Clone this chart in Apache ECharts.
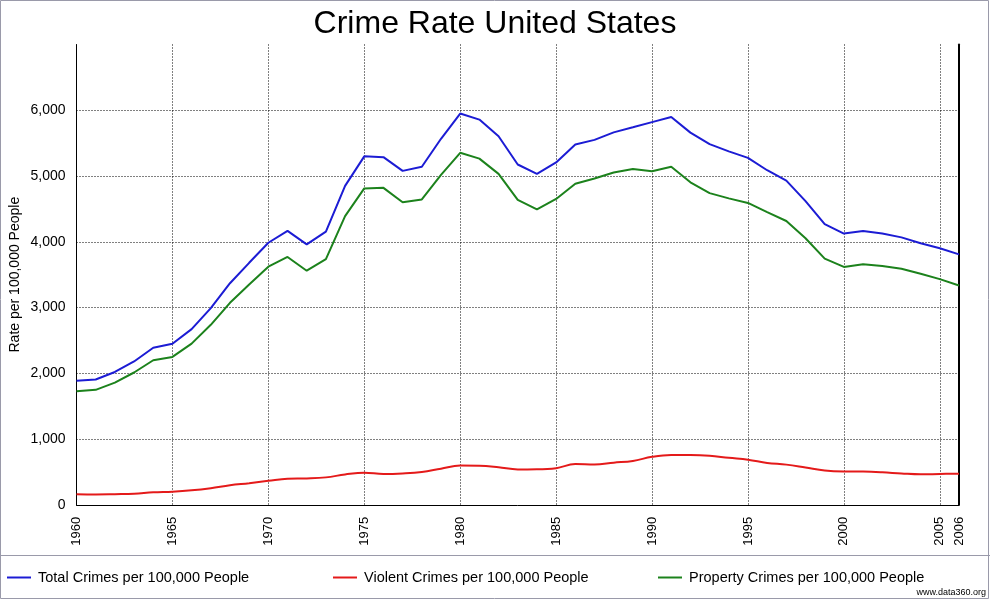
<!DOCTYPE html>
<html>
<head>
<meta charset="utf-8">
<script src="https://cdn.jsdelivr.net/npm/echarts@6/dist/echarts.min.js"></script>
<style>
html,body{margin:0;padding:0;background:#fff;}
#c{width:990px;height:600px;}
</style>
</head>
<body>
<div id="c"></div>
<script>
var years = [];
for (var y = 1960; y <= 2006; y++) years.push(String(y));

var totalCrimes = [1887,1906,2020,2180,2388,2449,2671,2990,3370,3680,3985,4165,3961,4154,4850,5299,5287,5078,5140,5566,5950,5858,5604,5175,5031,5207,5480,5550,5664,5741,5820,5898,5660,5484,5374,5276,5088,4930,4619,4267,4125,4163,4125,4067,3977,3901,3808];
var violentCrimes = [161,158,162,168,191,200,220,253,298,329,364,396,401,417,461,488,468,476,498,549,597,594,571,538,539,557,620,613,641,667,730,758,758,747,714,685,637,611,568,523,507,505,494,476,463,469,474];
var propertyCrimes = [1726,1748,1858,2012,2198,2249,2451,2737,3072,3351,3621,3769,3560,3737,4389,4811,4820,4602,4643,5017,5353,5264,5033,4637,4492,4651,4882,4963,5054,5107,5073,5140,4904,4740,4660,4591,4451,4316,4053,3744,3618,3658,3631,3591,3514,3432,3335];
var seriesNames = ['Total Crimes per 100,000 People','Violent Crimes per 100,000 People','Property Crimes per 100,000 People'];
var shownYears = ['1960','1965','1970','1975','1980','1985','1990','1995','2000','2005','2006'];
var gridYears = ['1965','1970','1975','1980','1985','1990','1995','2000','2005'];

var FONT = '"Liberation Sans", Arial, sans-serif';
var colors = ['#1c1cd4', '#e41a1a', '#1c821c'];

var chart = echarts.init(document.getElementById('c'), null, {renderer:'canvas'});
function legendAt(left, name) {
  return {
    data: [name], left: left, top: 570, orient: 'horizontal', padding: 0,
    icon: 'rect', itemWidth: 24, itemHeight: 2,
    textStyle: {fontFamily: FONT, fontSize: 14.5, color: '#000', padding: [0,0,0,2]},
    selectedMode: false
  };
}
chart.setOption({
  backgroundColor: '#ffffff',
  animation: false,
  title: {
    text: 'Crime Rate United States', left: 'center', top: 3,
    textStyle: {fontFamily: FONT, fontSize: 32, fontWeight: 'normal', color: '#000'}
  },
  legend: [legendAt(7, seriesNames[0]), legendAt(333, seriesNames[1]), legendAt(658, seriesNames[2])],
  grid: {left: 76.5, right: 31, top: 44.5, bottom: 95.2, containLabel: false, outerBoundsMode: 'none'},
  xAxis: {
    type: 'category', data: years, boundaryGap: false,
    axisLine: {show: true, lineStyle: {color: '#000', width: 1}},
    axisTick: {show: false},
    axisLabel: {
      rotate: 90, margin: 12, color: '#000', fontFamily: FONT, fontSize: 13,
      interval: function (i, v) { return shownYears.indexOf(v) >= 0; }
    },
    splitLine: {
      show: true,
      interval: function (i, v) { return gridYears.indexOf(v) >= 0; },
      lineStyle: {color: '#000', type: [1, 2], width: 1}
    }
  },
  yAxis: [{
    type: 'value', min: 0, max: 7000, interval: 1000,
    name: 'Rate per 100,000 People', nameLocation: 'middle', nameGap: 54, nameMoveOverlap: false,
    nameTextStyle: {fontFamily: FONT, fontSize: 14, color: '#000'},
    axisLine: {show: true, lineStyle: {color: '#000', width: 1}},
    axisTick: {show: false},
    axisLabel: {
      margin: 11, color: '#000', fontFamily: FONT, fontSize: 14, showMaxLabel: false,
      formatter: function (v) { return v.toLocaleString('en-US'); }
    },
    splitLine: {show: true, showMinLine: false, showMaxLine: false, lineStyle: {color: '#000', type: [1, 2], width: 1}}
  }, {
    type: 'value', min: 0, max: 7000, interval: 1000, position: 'right',
    axisLine: {show: true, onZero: false, lineStyle: {color: '#000', width: 2}},
    axisTick: {show: false}, axisLabel: {show: false}, splitLine: {show: false}
  }],
  series: [
    {name: seriesNames[0], type: 'line', data: totalCrimes, showSymbol: false, lineStyle: {color: colors[0], width: 2}, itemStyle: {color: colors[0]}},
    {name: seriesNames[1], type: 'line', data: violentCrimes, showSymbol: false, smooth: 0.4, lineStyle: {color: colors[1], width: 2}, itemStyle: {color: colors[1]}},
    {name: seriesNames[2], type: 'line', data: propertyCrimes, showSymbol: false, lineStyle: {color: colors[2], width: 2}, itemStyle: {color: colors[2]}}
  ],
  graphic: [
    {type: 'rect', shape: {x: 0.5, y: 0.5, width: 988, height: 598}, style: {fill: null, stroke: '#9a9aaa', lineWidth: 1}, silent: true},
    {type: 'line', shape: {x1: 0, y1: 555.5, x2: 990, y2: 555.5}, style: {stroke: '#9a9aaa', lineWidth: 1}, silent: true},
    {type: 'text', right: 4, top: 588, style: {text: 'www.data360.org', fontFamily: FONT, fontSize: 9, fill: '#000'}, silent: true}
  ]
});
</script>
</body>
</html>
